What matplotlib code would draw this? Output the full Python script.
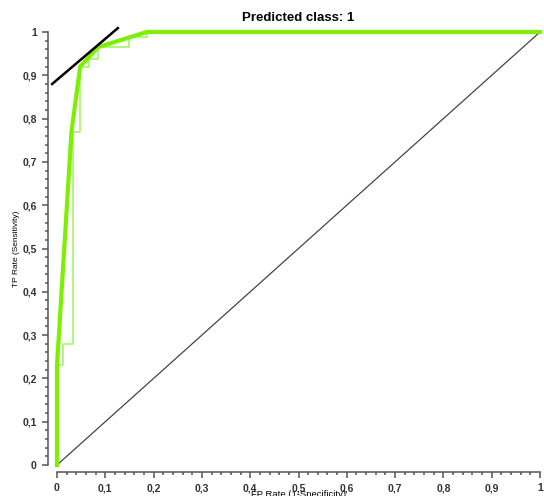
import matplotlib
matplotlib.use("Agg")
import matplotlib.pyplot as plt
from matplotlib.ticker import MultipleLocator

# ROC convex hull (thick curve)
hull_fpr = [0.0, 0.0, 0.030, 0.048, 0.085, 0.186, 1.0]
hull_tpr = [0.0, 0.23, 0.77, 0.92, 0.965, 1.0, 1.0]

# empirical ROC steps (thin curve)
step_fpr = [0.0, 0.0, 0.012, 0.012, 0.033, 0.033, 0.048, 0.048, 0.066, 0.066,
            0.085, 0.085, 0.149, 0.149, 0.186, 0.186, 1.0]
step_tpr = [0.0, 0.23, 0.23, 0.28, 0.28, 0.77, 0.77, 0.92, 0.92, 0.937,
            0.937, 0.965, 0.965, 0.988, 0.988, 1.0, 1.0]

# iso-performance tangent line
iso_fpr = [-0.01, 0.126]
iso_tpr = [0.88, 1.009]

ticks = [0, 0.1, 0.2, 0.3, 0.4, 0.5, 0.6, 0.7, 0.8, 0.9, 1]
tick_labels = ["0", "0,1", "0,2", "0,3", "0,4", "0,5", "0,6", "0,7", "0,8", "0,9", "1"]

plt.rcParams['font.family'] = ['Liberation Sans', 'DejaVu Sans']

fig = plt.figure(figsize=(5.44, 4.96), dpi=100)
ax = fig.add_axes([57/544, 31/496, 483/544, 433/496])

ax.plot([0, 1], [0, 1], color='#444444', lw=0.9, clip_on=False)
ax.plot(step_fpr, step_tpr, color='#a6f56a', lw=1.2, clip_on=False)
ax.plot(hull_fpr, hull_tpr, color='#7cf000', lw=3, clip_on=False, solid_joinstyle='round')
ax.plot(iso_fpr, iso_tpr, color='black', lw=1.8, clip_on=False)

ax.set_xlim(0, 1)
ax.set_ylim(0, 1)

for s in ['top', 'right']:
    ax.spines[s].set_visible(False)
ax.spines['left'].set_position(('outward', 6.5))
ax.spines['bottom'].set_position(('outward', 5))
ax.spines['left'].set_bounds(0, 1)
ax.spines['bottom'].set_bounds(0, 1)
for s in ['left', 'bottom']:
    ax.spines[s].set_color('#555555')
    ax.spines[s].set_linewidth(1.1)

ax.set_xticks(ticks)
ax.set_xticklabels(tick_labels)
ax.set_yticks(ticks)
ax.set_yticklabels(tick_labels)
ax.xaxis.set_minor_locator(MultipleLocator(0.02))
ax.yaxis.set_minor_locator(MultipleLocator(0.02))
ax.tick_params(which='major', length=4, width=1.1, color='#555555',
               labelsize=7.5, pad=4)
ax.tick_params(which='minor', length=2.4, width=1.1, color='#555555')
for lab in ax.get_xticklabels() + ax.get_yticklabels():
    lab.set_fontweight('bold')
    lab.set_color('#333333')

ax.set_title("Predicted class: 1", fontsize=9.5, fontweight='bold', pad=8)
ax.set_xlabel("FP Rate (1-Specificity)", fontsize=6.8, labelpad=-2)
ax.set_ylabel("TP Rate (Sensitivity)", fontsize=6, labelpad=2)

fig.savefig("out.png", dpi=100)
